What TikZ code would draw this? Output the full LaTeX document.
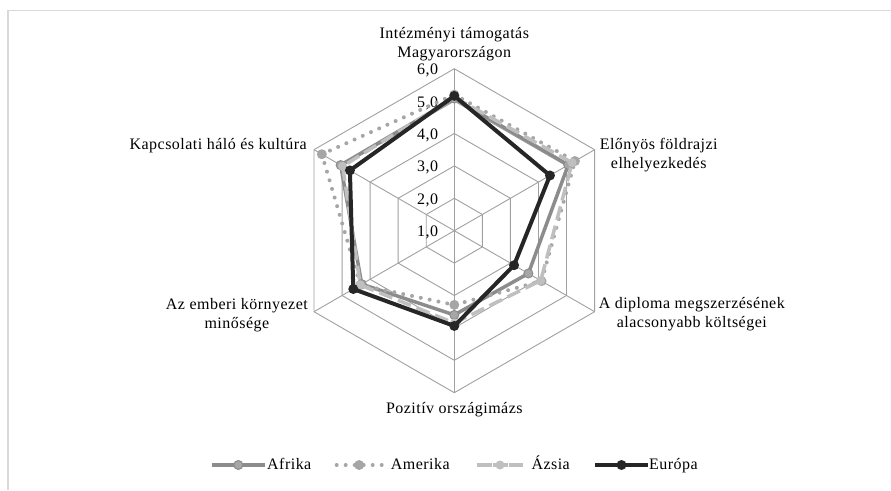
\documentclass[tikz,border=0pt]{standalone}
\usepackage{fontspec}
\setmainfont{Liberation Serif}[LetterSpace=3]
\usetikzlibrary{positioning,calc}
\definecolor{afcol}{HTML}{8C8C8C}
\definecolor{affill}{HTML}{A6A6A6}
\definecolor{amcol}{HTML}{A6A6A6}
\definecolor{azcol}{HTML}{BFBFBF}
\definecolor{eucol}{HTML}{262626}
\definecolor{gridcol}{HTML}{A0A0A0}
\definecolor{framecol}{HTML}{D9D9D9}
\newcommand{\ringstep}{32.4}
\tikzset{
  % Define frame and grid styles
  frame/.style={draw=framecol, line width=1.5pt},
  grid/.style={draw=gridcol, line width=0.9pt},
  % Define style for labels
  lbl/.style={align=center, inner sep=0pt, font=\fontsize{16}{19}\selectfont},
  tick/.style={anchor=east, inner sep=0pt, font=\fontsize{16}{19}\selectfont},
  lgtxt/.style={anchor=west, inner sep=0pt, text height=11pt, text depth=3pt,
    font=\fontsize{16}{19}\selectfont},
  % Define series styles
  afrika/.style={draw=afcol, line width=3.5pt, line join=round},
  amerika/.style={draw=amcol, line width=4pt, line cap=round, line join=round,
    dash pattern=on 0pt off 9pt},
  azsia/.style={draw=azcol, line width=3.5pt, line join=round,
    dash pattern=on 14pt off 6pt},
  europa/.style={draw=eucol, line width=4pt, line join=round},
  % Define marker styles
  dot/.style={circle, inner sep=0pt, minimum size=9pt},
  afdot/.style={dot, fill=affill, draw=afcol, line width=1pt},
  amdot/.style={dot, fill=amcol, minimum size=10pt},
  azdot/.style={dot, fill=azcol},
  eudot/.style={dot, fill=eucol, minimum size=10pt},
}
\begin{document}
\begin{tikzpicture}[x=1pt, y=1pt]
  \useasboundingbox (-454.3,-259.3) rectangle (436.7,230.7);
  % frame
  \coordinate (fr-b) at (-446.3,-259.3);
  \coordinate (fr-c) at (-446.3,220);
  \coordinate (fr-r) at (436.7,220);
  \draw[frame] (fr-b) -- (fr-c) -- (fr-r);
  % grid
  \coordinate (c) at (0,0);
  \foreach \i in {1,...,6}
    \coordinate (ax\i) at ({150-60*\i}:{5*\ringstep});
  \foreach \k in {1,...,5}
    \draw[grid] (90:\k*\ringstep) -- (30:\k*\ringstep) -- (-30:\k*\ringstep)
      -- (-90:\k*\ringstep) -- (-150:\k*\ringstep) -- (150:\k*\ringstep) -- cycle;
  \foreach \i in {1,...,6}
    \draw[grid] (c) -- (ax\i);
  % axis values
  \foreach \k in {1,...,6}
    \node[tick] (t\k) at (-16,{(\k-1)*\ringstep-2}) {\k,0};
  % categories
  \node[lbl, above=8pt of ax1] (cat1) {Intézményi támogatás\\Magyarországon};
  \node[lbl, anchor=west] (cat2) at ([xshift=5pt,yshift=-5pt]ax2) {Előnyös földrajzi\\elhelyezkedés};
  \node[lbl, anchor=west] (cat3) at ([xshift=4pt,yshift=-2pt]ax3) {A diploma megszerzésének\\alacsonyabb költségei};
  \node[lbl, below=9pt of ax4] (cat4) {Pozitív országimázs};
  \node[lbl, anchor=east] (cat5) at ([xshift=-6pt,yshift=-3pt]ax5) {Az emberi környezet\\minősége};
  \node[lbl, anchor=east] (cat6) at ([xshift=-7pt,yshift=4pt]ax6) {Kapcsolati háló és kultúra};
  % series
  \foreach \v [count=\i] in {5.08,5.06,3.64,3.6,4.3,5.05}
    \coordinate (af\i) at ({150-60*\i}:{(\v-1)*\ringstep});
  \foreach \v [count=\i] in {5.2,5.3,4.11,3.29,4.35,5.72}
    \coordinate (am\i) at ({150-60*\i}:{(\v-1)*\ringstep});
  \foreach \v [count=\i] in {5.12,5.2,4.08,3.85,4.35,4.98}
    \coordinate (az\i) at ({150-60*\i}:{(\v-1)*\ringstep});
  \foreach \v [count=\i] in {5.16,4.41,3.13,3.94,4.6,4.72}
    \coordinate (eu\i) at ({150-60*\i}:{(\v-1)*\ringstep});
  \draw[afrika] (af1) -- (af2) -- (af3) -- (af4) -- (af5) -- (af6) -- cycle;
  \foreach \i in {1,...,6} \node[afdot] at (af\i) {};
  \draw[amerika] (am1) -- (am2) -- (am3) -- (am4) -- (am5) -- (am6) -- cycle;
  \foreach \i in {1,...,6} \node[amdot] at (am\i) {};
  \draw[azsia] (az1) -- (az2) -- (az3) -- (az4) -- (az5) -- (az6) -- cycle;
  \foreach \i in {1,...,6} \node[azdot] at (az\i) {};
  \draw[europa] (eu1) -- (eu2) -- (eu3) -- (eu4) -- (eu5) -- (eu6) -- cycle;
  \foreach \i in {1,...,6} \node[eudot] at (eu\i) {};
  % legend
  \coordinate (lgaf-l) at (-242.6,-234.3);
  \coordinate (lgaf-r) at (-189.3,-234.3);
  \draw[afrika] (lgaf-l) -- (lgaf-r);
  \node[afdot] (lgaf) at ($(lgaf-l)!0.5!(lgaf-r)$) {};
  \node[lgtxt, right=2pt of lgaf-r] (txtaf) {Afrika};
  \coordinate (lgam-l) at (-117.6,-234.3);
  \coordinate (lgam-r) at (-72.6,-234.3);
  \draw[amerika] (lgam-l) -- (lgam-r);
  \node[amdot] (lgam) at ($(lgam-l)!0.5!(lgam-r)$) {};
  \node[lgtxt, right=9pt of lgam-r] (txtam) {Amerika};
  \coordinate (lgaz-l) at (22.4,-234.3);
  \coordinate (lgaz-r) at (69,-234.3);
  \draw[azsia, dash pattern=on 15pt off 1pt] (lgaz-l) -- (lgaz-r);
  \node[azdot] (lgaz) at ($(lgaz-l)!0.5!(lgaz-r)$) {};
  \node[lgtxt, right=8pt of lgaz-r] (txtaz) {Ázsia};
  \coordinate (lgeu-l) at (140.7,-234.3);
  \coordinate (lgeu-r) at (193.7,-234.3);
  \draw[europa] (lgeu-l) -- (lgeu-r);
  \node[eudot] (lgeu) at ($(lgeu-l)!0.5!(lgeu-r)$) {};
  \node[lgtxt, right=1pt of lgeu-r] (txteu) {Európa};
\end{tikzpicture}
\end{document}
